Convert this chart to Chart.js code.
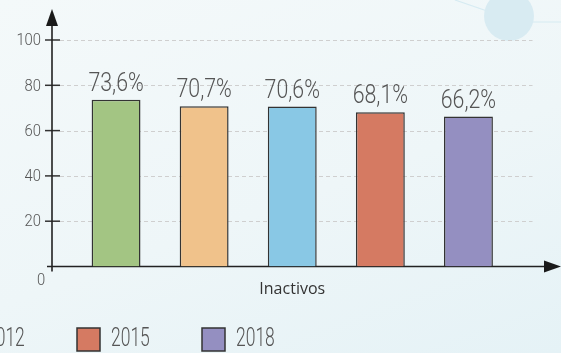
<!DOCTYPE html>
<html>
<head>
<meta charset="utf-8">
<script src="https://cdn.jsdelivr.net/npm/chart.js@4/dist/chart.umd.min.js"></script>
<style>
  html, body { margin: 0; padding: 0; }
  body {
    width: 561px; height: 353px; overflow: hidden;
    background: linear-gradient(160deg, #f4f9fa 0%, #eef6f8 55%, #e5f2f6 100%);
  }
  #wrap { position: relative; width: 561px; height: 353px; }
</style>
</head>
<body>
<div id="wrap"><canvas id="inactivos" width="561" height="353"></canvas></div>
<script>
// Share of inactive population by survey year
const categories = ['Inactivos'];
const years = ['2006', '2009', '2012', '2015', '2018'];
const values = [73.6, 70.7, 70.6, 68.1, 66.2];
const colors = ['#a3c583', '#f0c28b', '#89c8e5', '#d57a62', '#948fc1'];
const yTicks = [0, 20, 40, 60, 80, 100];

const THIN = '300 {size}px Roboto, "DejaVu Sans", sans-serif';

// light condensed text: Roboto Light squeezed horizontally
function narrowText(ctx, text, x, y, size, squeeze, align) {
  ctx.save();
  ctx.font = THIN.replace('{size}', size);
  ctx.textAlign = align;
  ctx.translate(x, y);
  ctx.scale(squeeze, 1);
  ctx.fillText(text, 0, 0);
  ctx.restore();
}

// hand-drawn axes with arrows, dashed grid, tick labels, value labels and legend
const decor = {
  id: 'decor',
  beforeDatasetsDraw(chart) {
    const { ctx, chartArea, scales } = chart;
    const y = scales.y;
    const axisX = chartArea.left - 20;
    ctx.save();

    // background ornament: circle and thin connector lines
    ctx.strokeStyle = '#d6ebf2';
    ctx.lineWidth = 1.2;
    ctx.beginPath();
    ctx.moveTo(455, 0); ctx.lineTo(490, 12);
    ctx.moveTo(530, 22); ctx.lineTo(561, 22);
    ctx.stroke();
    ctx.fillStyle = '#d8ebf2';
    ctx.beginPath();
    ctx.arc(509, 16, 25, 0, Math.PI * 2);
    ctx.fill();

    // dashed grid
    ctx.strokeStyle = '#cfcfcf';
    ctx.lineWidth = 1;
    ctx.setLineDash([4, 3]);
    yTicks.forEach(v => {
      if (v === 0) return;
      const py = Math.round(y.getPixelForValue(v)) + 0.5;
      ctx.beginPath();
      ctx.moveTo(axisX + 8, py);
      ctx.lineTo(chartArea.right + 20, py);
      ctx.stroke();
    });
    ctx.setLineDash([]);

    // tick marks and tick labels
    ctx.strokeStyle = '#333';
    ctx.lineWidth = 1.5;
    ctx.fillStyle = '#555';
    ctx.textBaseline = 'middle';
    yTicks.forEach(v => {
      const py = y.getPixelForValue(v);
      if (v === 0) {
        narrowText(ctx, '0', axisX - 11, py + 14, 17, 0.87, 'center');
        return;
      }
      ctx.beginPath();
      ctx.moveTo(axisX - 7, py);
      ctx.lineTo(axisX + 8, py);
      ctx.stroke();
      narrowText(ctx, String(v), axisX - 11, py + 1, 17, 0.87, 'right');
    });

    // axes
    const y0 = y.getPixelForValue(0);
    ctx.strokeStyle = '#222';
    ctx.lineWidth = 1.6;
    ctx.beginPath();
    ctx.moveTo(axisX, y0 + 5);
    ctx.lineTo(axisX, 20);
    ctx.moveTo(axisX - 5, y0);
    ctx.lineTo(548, y0);
    ctx.stroke();
    ctx.fillStyle = '#1a1a1a';
    ctx.beginPath();
    ctx.moveTo(axisX, 9);
    ctx.lineTo(axisX - 6, 26);
    ctx.lineTo(axisX + 6, 26);
    ctx.closePath();
    ctx.fill();
    ctx.beginPath();
    ctx.moveTo(561, y0);
    ctx.lineTo(544, y0 - 6);
    ctx.lineTo(544, y0 + 6);
    ctx.closePath();
    ctx.fill();

    // category label
    const x = scales.x;
    ctx.fillStyle = '#333';
    ctx.font = '16px "Open Sans", sans-serif';
    ctx.textAlign = 'center';
    ctx.textBaseline = 'middle';
    categories.forEach((c, i) => ctx.fillText(c, x.getPixelForValue(i), y0 + 23));
    ctx.restore();
  },
  afterDatasetsDraw(chart) {
    const { ctx } = chart;
    ctx.save();
    ctx.fillStyle = '#555';
    ctx.textBaseline = 'alphabetic';
    chart.data.datasets.forEach((ds, i) => {
      const bar = chart.getDatasetMeta(i).data[0];
      const txt = ds.data[0].toFixed(1).replace('.', ',') + '%';
      narrowText(ctx, txt, bar.x, bar.y - 9, 26, 0.82, 'center');
    });

    // legend row, last item anchored near the left third
    const step = 125;
    const lastSquare = 202;
    ctx.textBaseline = 'middle';
    chart.data.datasets.forEach((ds, i) => {
      const sx = lastSquare - (years.length - 1 - i) * step;
      ctx.fillStyle = ds.backgroundColor;
      ctx.fillRect(sx, 328, 23, 23);
      ctx.strokeStyle = '#333';
      ctx.lineWidth = 1.5;
      ctx.strokeRect(sx, 328, 23, 23);
      ctx.fillStyle = '#555';
      narrowText(ctx, ds.label, sx + 34, 340, 25, 0.7, 'left');
    });
    ctx.restore();
  }
};

const datasets = years.map((yr, i) => ({
  label: yr,
  data: [values[i]],
  backgroundColor: colors[i],
  borderColor: '#333',
  borderWidth: 1.5,
  categoryPercentage: 1,
  barPercentage: 0.555
}));

new Chart(document.getElementById('inactivos'), {
  type: 'bar',
  data: { labels: categories, datasets },
  options: {
    responsive: false,
    animation: false,
    layout: { padding: { left: 72, right: 48.5, top: 40, bottom: 86.5 } },
    plugins: { legend: { display: false }, tooltip: { enabled: false } },
    scales: {
      x: { display: false },
      y: { display: false, min: 0, max: 100 }
    }
  },
  plugins: [decor]
});
</script>
</body>
</html>
